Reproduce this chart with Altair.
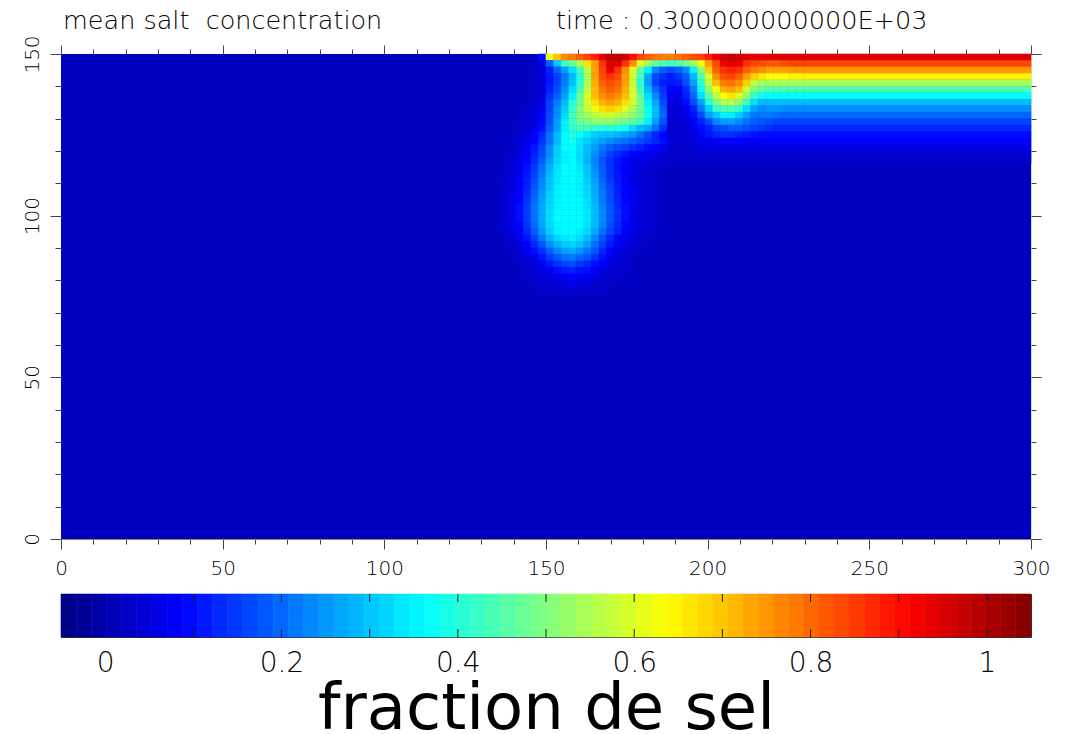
import altair as alt
import pandas as pd

# ---------------- data ----------------
X_DOMAIN = [0, 300]
Y_DOMAIN = [0, 150]
NX, NY = 128, 75          # grid of the simulation
K0 = 58                   # first column index of the detailed block
BG = 2                    # background value (percent)

# salt fraction in percent, one string per grid row from the top (y=150) down,
# columns k = 58, 59, ... ; cells not listed are background
FIELD_ROWS = [
    "2 2 2 2 2 10 61 70 76 78 81 84 88 94 98 98 97 90 84 81 79 78 78 79 81 83 84 88 93 96 97 96 95 94 94 95 95 95 95 95",
    "2 2 2 2 3 6 19 30 43 48 55 67 74 86 95 95 86 76 61 53 47 44 43 44 48 54 62 74 83 93 95 93 86 84 83 82 82 83 84 84",
    "2 2 2 2 3 5 12 19 26 33 43 57 74 84 93 86 76 60 47 35 24 19 17 19 24 35 52 69 81 86 88 86 81 78 76 74 74 74 75 75",
    "2 2 2 2 3 4 11 16 22 29 40 54 74 83 86 83 74 58 43 27 17 14 12 14 19 29 45 60 76 83 84 81 74 69 66 64 64 64 65 65",
    "2 2 2 2 3 4 11 16 22 29 41 55 72 81 83 81 74 58 41 26 16 12 11 12 17 26 41 57 71 78 79 76 69 57 54 54 54 54 54 54",
    "2 2 2 2 3 4 12 17 24 33 43 57 71 78 81 79 72 59 43 29 20 14 9 8 13 22 38 52 63 72 74 71 59 50 47 45 45 45 45 45",
    "2 2 2 2 3 5 14 19 26 35 47 59 71 76 78 76 71 59 47 33 24 15 7 6 12 20 33 47 57 63 67 60 52 42 38 36 36 36 36 36",
    "2 2 2 2 3 6 16 22 29 40 48 60 67 72 74 72 67 59 48 35 27 17 6 5 10 17 26 40 50 55 55 52 43 33 29 29 29 29 29 29",
    "2 2 2 3 4 7 16 24 31 42 50 57 62 67 69 67 60 55 48 38 29 19 5 4 7 12 22 31 42 45 45 42 33 26 24 25 25 24 24 24",
    "2 2 2 3 5 8 17 24 33 43 50 54 57 59 59 57 55 52 47 38 29 20 5 4 6 10 17 26 31 35 35 31 26 22 22 22 21 20 20 20",
    "2 2 3 3 5 9 17 26 35 43 48 50 52 52 52 50 48 47 43 35 26 18 4 4 5 8 12 17 24 26 26 24 21 19 18 17 16 16 16 16",
    "2 2 3 4 6 10 19 26 35 41 43 43 41 40 40 40 38 33 29 27 21 14 4 3 4 7 10 12 16 17 19 19 17 16 15 14 13 13 13 13",
    "2 3 4 6 9 13 21 29 36 40 37 34 31 30 30 29 27 25 21 17 13 9 4 3 4 6 9 11 13 14 14 13 12 11 10 10 10 10 10 10",
    "2 3 4 6 9 14 21 29 36 38 34 31 28 26 24 22 21 19 17 15 13 10 5 4 4 5 6 7 8 9 9 9 8 8 8 8 8 8 8 8",
    "2 3 5 7 11 16 24 31 36 37 33 29 26 22 19 17 16 14 12 10 9 7 4 3 3 4 5 5 6 6 6 6 6 6 6 6 6 6 6 6",
    "2 3 5 8 12 17 24 31 35 36 33 29 24 20 16 13 11 9 8 7 6 5 3 3 3 3 4 4 4 4 4 4 4 4 4 4 4 4 4 4",
    "3 4 6 9 13 19 26 32 35 36 33 28 23 18 14 11 9 7 6 5 4 4 3 3 3 3 3 3 3 3 3 3 3 3 3 3 3 3 3 3",
    "3 4 7 10 15 21 28 33 36 36 34 30 24 19 14 10 8 6 5 4 3",
    "3 5 7 11 16 22 29 34 36 36 35 30 25 19 14 11 8 6 5 4 3",
    "3 5 8 12 17 23 30 34 36 36 35 31 26 20 15 11 8 6 5 4 3",
    "4 5 8 12 18 24 30 35 36 36 35 32 27 21 16 12 9 7 5 4 3",
    "4 6 9 13 19 25 31 35 36 36 35 32 27 22 17 12 9 7 5 4 3",
    "4 6 9 14 20 26 32 35 36 36 36 33 28 22 17 13 9 7 5 4 3",
    "4 6 10 15 21 27 32 35 36 36 36 33 29 23 18 13 10 7 5 4 3",
    "4 6 10 15 21 27 33 36 36 36 36 34 29 24 18 14 10 7 5 4 3",
    "4 6 10 15 21 27 33 36 36 36 36 34 29 24 18 14 10 7 5 4 3",
    "4 6 9 14 20 27 32 35 36 36 36 33 29 23 17 13 9 7 5 4 3",
    "3 5 8 13 19 25 31 35 36 36 35 32 27 21 16 12 8 6 4 3 3",
    "3 4 7 11 16 22 28 32 34 35 33 29 24 18 13 9 7 5 3 3 2",
    "2 3 5 9 13 18 24 28 31 32 30 26 21 16 11 8 6 4 3 2 2",
    "2 3 4 7 10 14 19 23 26 27 25 22 18 13 9 6 4 3 2 2 2",
    "2 2 3 5 7 11 15 18 21 22 20 18 14 10 7 5 4 3 2 2 2",
    "2 2 3 4 5 8 11 14 16 17 15 13 10 8 6 4 3 2 2 2 2",
    "2 2 2 3 4 6 8 10 12 12 11 10 8 6 4 3 3 2 2 2 2",
    "2 2 2 3 3 4 6 7 8 9 8 7 6 4 3 3 2 2 2 2 2",
    "2 2 2 2 3 3 4 5 5 6 5 5 4 3 3 2 2 2 2 2 2",
    "2 2 2 2 2 3 3 3 4 4 4 3 3 3 2 2 2 2 2 2 2",
]

# horizontally uniform layer on the right (columns 98 .. 127), percent, rows from top
RIGHT_K0 = 98
RIGHT_ROWS = [95, 84, 75, 65, 54, 45, 36, 29, 24, 20, 16, 13, 10, 8, 6, 4, 3]

X_TICKS = list(range(0, 301, 10))
Y_TICKS = list(range(0, 151, 10))

CB_DOMAIN = [-0.05, 1.05]
CB_STEPS = 64
CB_TICKS = [0.1, 0.2, 0.3, 0.4, 0.5, 0.6, 0.7, 0.8, 0.9, 1.0]
CB_LABELS = [0, 0.2, 0.4, 0.6, 0.8, 1]

HEADER_LEFT = "mean salt\u00a0 concentration"
HEADER_RIGHT = "time : 0.300000000000E+03"
CB_TITLE = "fraction de sel"

# jet colour map
JET_STOPS = [-0.05, 0.0875, 0.3625, 0.6375, 0.9125, 1.05]
JET_COLORS = ["#000080", "#0000ff", "#00ffff", "#ffff00", "#ff0000", "#800000"]

# ---------------- tables ----------------
dx = (X_DOMAIN[1] - X_DOMAIN[0]) / NX
dy = (Y_DOMAIN[1] - Y_DOMAIN[0]) / NY
cells = []
for j, row in enumerate(FIELD_ROWS):
    for i, v in enumerate(row.split()):
        if int(v) == BG:
            continue  # same as the background, nothing to draw
        k = K0 + i
        cells.append(dict(x0=k * dx, x1=(k + 1) * dx,
                          y0=Y_DOMAIN[1] - (j + 1) * dy, y1=Y_DOMAIN[1] - j * dy,
                          v=int(v) / 100))
field_df = pd.DataFrame(cells)

right_df = pd.DataFrame([dict(x0=RIGHT_K0 * dx, x1=X_DOMAIN[1],
                              y0=Y_DOMAIN[1] - (j + 1) * dy, y1=Y_DOMAIN[1] - j * dy,
                              v=v / 100) for j, v in enumerate(RIGHT_ROWS)])
bg_df = pd.DataFrame([dict(x0=X_DOMAIN[0], x1=X_DOMAIN[1], y0=Y_DOMAIN[0], y1=Y_DOMAIN[1], v=BG / 100)])

edges = [CB_DOMAIN[0] + i * (CB_DOMAIN[1] - CB_DOMAIN[0]) / CB_STEPS for i in range(CB_STEPS + 1)]
cb_df = pd.DataFrame({"c0": edges[:-1], "c1": edges[1:]})
cb_df["v"] = (cb_df["c0"] + cb_df["c1"]) / 2
cbt_df = pd.DataFrame({"t": CB_TICKS})

# ---------------- styling ----------------
W, H = 970, 485
CB_H = 43
CB_TICK = 8
LFONT = "DejaVu Sans"
LWEIGHT = 200

xs = alt.Scale(domain=X_DOMAIN, nice=False, zero=False)
ys = alt.Scale(domain=Y_DOMAIN, nice=False, zero=False)
cs = alt.Scale(domain=JET_STOPS, range=JET_COLORS, interpolate="rgb")

MAJ = "datum.value % 50 === 0"
common = dict(grid=False, title=None, tickColor="#444", labelFont=LFONT,
              labelFontWeight=LWEIGHT, labelColor="black", labelOverlap=False,
              labelFlush=False)

ax_bottom = alt.Axis(orient="bottom", values=X_TICKS, labelExpr=f"{MAJ} ? datum.label : ''",
                     tickSize={"condition": {"test": MAJ, "value": 10}, "value": 5},
                     domain=True, domainColor="#888", labelFontSize=20, labelPadding=9, **common)
ax_left = alt.Axis(orient="left", values=Y_TICKS, labelExpr=f"{MAJ} ? datum.label : ''",
                   tickSize={"condition": {"test": MAJ, "value": 11}, "value": 6},
                   domain=False, labelFontSize=20, labelAngle=270, labelAlign="center",
                   labelBaseline="alphabetic", labelPadding=12, minExtent=52, maxExtent=52, **common)
ax_top = alt.Axis(orient="top", values=X_TICKS, labels=False,
                  tickSize={"condition": {"test": MAJ, "value": 9}, "value": 5},
                  domain=False, **common)
ax_right = alt.Axis(orient="right", values=Y_TICKS, labels=False,
                    tickSize={"condition": {"test": MAJ, "value": 10}, "value": 5},
                    domain=False, **common)

def field_layer(df, axx, axy, sw):
    return alt.Chart(df).mark_rect(strokeWidth=sw).encode(
        x=alt.X("x0:Q", scale=xs, axis=axx), x2="x1",
        y=alt.Y("y0:Q", scale=ys, axis=axy), y2="y1",
        fill=alt.Fill("v:Q", scale=cs, legend=None),
        stroke=alt.Stroke("v:Q", scale=cs, legend=None),
    )

bg_layer = field_layer(bg_df, ax_top, ax_right, 0)
grid_layer = field_layer(field_df, ax_bottom, ax_left, 0.6)
right_layer = field_layer(right_df, None, None, 0.6)

HEAD_SIZE = 25.5
head_l = alt.Chart(pd.DataFrame({"t": [HEADER_LEFT]})).mark_text(
    align="left", baseline="alphabetic", font=LFONT, fontWeight=LWEIGHT, fontSize=HEAD_SIZE, color="black"
).encode(text="t:N", x=alt.value(2), y=alt.value(-25))
head_r = alt.Chart(pd.DataFrame({"t": [HEADER_RIGHT]})).mark_text(
    align="left", baseline="alphabetic", font=LFONT, fontWeight=LWEIGHT, fontSize=HEAD_SIZE, color="black"
).encode(text="t:N", x=alt.value(495), y=alt.value(-25))

main = alt.layer(bg_layer, grid_layer, right_layer, head_l, head_r).resolve_axis(
    x="independent", y="independent").properties(width=W, height=H)

cbx = alt.Scale(domain=CB_DOMAIN, nice=False, zero=False)
cb_axis = alt.Axis(values=CB_LABELS, format="~g", ticks=False, domain=False, grid=False,
                   labelFont=LFONT, labelFontWeight=LWEIGHT, labelFontSize=28, labelColor="black",
                   labelPadding=12, labelFlush=False, labelOverlap=False,
                   title=CB_TITLE, titleFont="DejaVu Sans", titleFontWeight="normal",
                   titleFontSize=64, titleColor="black", titlePadding=0)

cb_rect = alt.Chart(cb_df).mark_rect(strokeWidth=0.6).encode(
    x=alt.X("c0:Q", scale=cbx, axis=cb_axis), x2="c1",
    y=alt.value(0), y2=alt.value(CB_H),
    fill=alt.Fill("v:Q", scale=cs, legend=None),
    stroke=alt.Stroke("v:Q", scale=cs, legend=None),
)
cb_top = alt.Chart(cbt_df).mark_rule(color="#222", strokeWidth=1).encode(
    x=alt.X("t:Q", scale=cbx, axis=cb_axis), y=alt.value(0), y2=alt.value(CB_TICK))
cb_bot = alt.Chart(cbt_df).mark_rule(color="#222", strokeWidth=1).encode(
    x=alt.X("t:Q", scale=cbx, axis=cb_axis), y=alt.value(CB_H - CB_TICK), y2=alt.value(CB_H))

colorbar = alt.layer(cb_rect, cb_top, cb_bot).properties(
    width=W, height=CB_H, view=alt.ViewBackground(stroke="#333", strokeWidth=1))

chart = alt.vconcat(main, colorbar, spacing=14).properties(
    padding={"left": 0, "top": 0, "right": 0, "bottom": 0}
).configure_view(strokeWidth=0).configure(background="white")

chart.save("out.html", embed_options={"renderer": "svg", "actions": False})
